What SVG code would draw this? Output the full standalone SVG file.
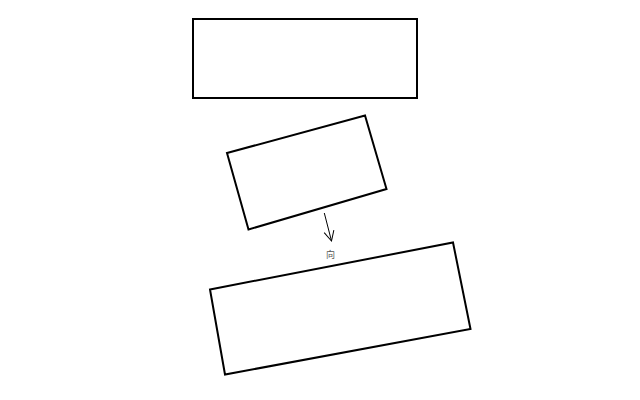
<svg xmlns="http://www.w3.org/2000/svg" width="640" height="400" viewBox="0 0 640 400">
<defs>
<style>
.box{fill:#fff;stroke:#000;stroke-width:2;stroke-linejoin:miter}
.conn{fill:none;stroke:#000;stroke-width:1}
.lbl{font-family:"Liberation Sans","Noto Sans CJK SC",sans-serif;font-size:9px;fill:#555}
</style>
<marker id="open" viewBox="0 0 12 12" refX="11" refY="6" markerWidth="12" markerHeight="12" markerUnits="userSpaceOnUse" orient="auto">
<path d="M1,1 L11,6 L1,11" fill="none" stroke="#000" stroke-width="1"/>
</marker>
</defs>
<rect width="640" height="400" fill="#fff"/>
<g id="node-top">
<rect class="box" x="193" y="19" width="224" height="79"/>
</g>
<g id="node-middle">
<polygon class="box" points="227,153 365,115.5 386.5,189 248.5,229.5"/>
</g>
<g id="node-bottom">
<polygon class="box" points="210,289.5 453,242.5 470.5,329 225,374.5"/>
</g>
<g id="connectors">
<line class="conn" x1="324.3" y1="213" x2="331.5" y2="241" marker-end="url(#open)"/>
<text class="lbl" x="330.5" y="258" text-anchor="middle">向</text>
</g>
</svg>
